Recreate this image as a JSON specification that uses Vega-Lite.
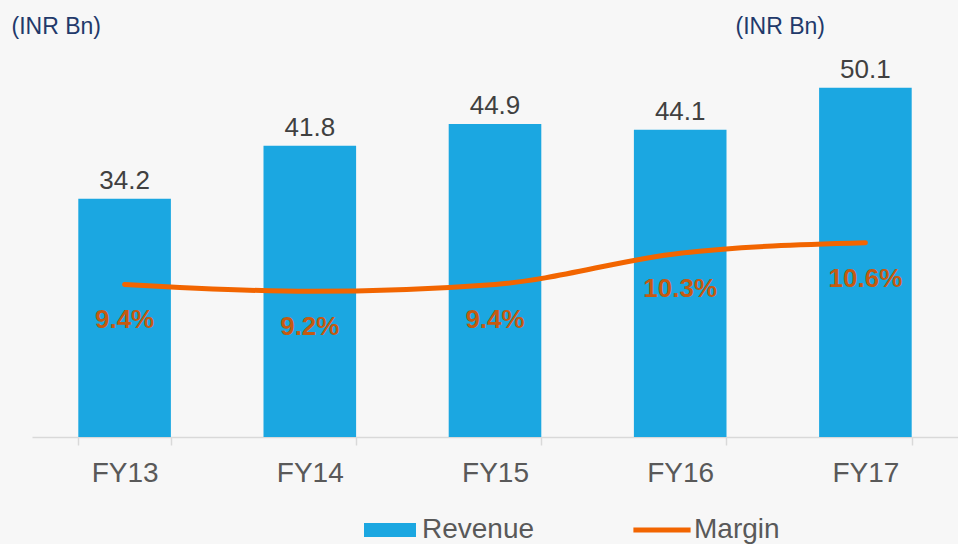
{
  "$schema": "https://vega.github.io/schema/vega-lite/v6.json",
  "width": 926,
  "height": 437,
  "autosize": {"type": "none"},
  "padding": {"left": 32, "top": 0, "right": 0, "bottom": 107},
  "background": "#F7F7F7",
  "config": {
    "view": {"stroke": null},
    "font": "Liberation Sans"
  },
  "data": {
    "values": [
      {"year": "FY13", "revenue": 34.2, "margin": 0.094},
      {"year": "FY14", "revenue": 41.8, "margin": 0.092},
      {"year": "FY15", "revenue": 44.9, "margin": 0.094},
      {"year": "FY16", "revenue": 44.1, "margin": 0.103},
      {"year": "FY17", "revenue": 50.1, "margin": 0.106}
    ]
  },
  "encoding": {
    "x": {
      "field": "year",
      "type": "ordinal",
      "scale": {"paddingInner": 0.5, "paddingOuter": 0.25},
      "axis": {
        "title": null,
        "labelAngle": 0,
        "labelFont": "Liberation Sans",
        "labelFontSize": 28,
        "labelColor": "#595959",
        "labelPadding": 14,
        "domainColor": "#D9D9D9",
        "domainWidth": 1.5,
        "tickColor": "#D9D9D9",
        "tickWidth": 1.5,
        "tickSize": 8,
        "tickBand": "extent"
      }
    }
  },
  "layer": [
    {
      "encoding": {
        "y": {
          "field": "revenue",
          "type": "quantitative",
          "scale": {"domain": [0, 62.7], "nice": false, "zero": true},
          "axis": {
            "orient": "left",
            "domain": false,
            "ticks": false,
            "labels": false,
            "grid": false,
            "title": "(INR Bn)",
            "titleAngle": 0,
            "titleAlign": "left",
            "titleBaseline": "alphabetic",
            "titleX": -21,
            "titleY": 33,
            "titleFont": "Liberation Sans",
            "titleFontSize": 23,
            "titleFontWeight": "normal",
            "titleColor": "#22396A"
          }
        }
      },
      "layer": [
        {
          "mark": {"type": "bar"},
          "encoding": {
            "color": {
              "datum": "Revenue",
              "type": "nominal",
              "scale": {"domain": ["Revenue", "Margin"], "range": ["#1BA7E1", "#F26500"]},
              "legend": {
                "title": null,
                "orient": "none",
                "direction": "horizontal",
                "legendX": 332,
                "legendY": 504,
                "labelFont": "Liberation Sans",
                "labelFontSize": 28,
                "labelColor": "#595959",
                "labelOffset": 6,
                "symbolSize": 2704,
                "columnPadding": 98,
                "encode": {
                  "symbols": {
                    "update": {
                      "shape": {"signal": "datum.value === 'Revenue' ? 'M-1,-0.27H1V0.27H-1Z' : 'M-1.1,-0.1H1.1V0.1H-1.1Z'"},
                      "fill": {"signal": "datum.value === 'Revenue' ? '#1BA7E1' : '#F26500'"},
                      "strokeWidth": {"value": 0},
                      "opacity": {"value": 1}
                    }
                  }
                }
              }
            }
          }
        },
        {
          "mark": {"type": "text", "baseline": "middle", "dy": -18, "fontSize": 26, "font": "Liberation Sans", "color": "#404040"},
          "encoding": {
            "text": {"field": "revenue", "type": "quantitative", "format": ".1f"}
          }
        }
      ]
    },
    {
      "encoding": {
        "y": {
          "field": "margin",
          "type": "quantitative",
          "scale": {"domain": [0.05, 0.176], "nice": false, "zero": false},
          "axis": {
            "orient": "right",
            "domain": false,
            "ticks": false,
            "labels": false,
            "grid": false,
            "title": "(INR Bn)",
            "titleAngle": 0,
            "titleAlign": "left",
            "titleBaseline": "alphabetic",
            "titleX": -223,
            "titleY": 33,
            "titleFont": "Liberation Sans",
            "titleFontSize": 23,
            "titleFontWeight": "normal",
            "titleColor": "#22396A"
          }
        }
      },
      "layer": [
        {
          "mark": {"type": "line", "interpolate": "monotone", "strokeWidth": 5, "strokeCap": "round"},
          "encoding": {
            "color": {"datum": "Margin", "type": "nominal"}
          }
        },
        {
          "mark": {"type": "text", "baseline": "middle", "dy": 36, "fontSize": 26, "fontWeight": "bold", "font": "Liberation Sans", "color": "#C55A11"},
          "encoding": {
            "text": {"field": "margin", "type": "quantitative", "format": ".1%"}
          }
        }
      ]
    }
  ],
  "resolve": {"scale": {"y": "independent"}, "axis": {"y": "independent"}}
}
